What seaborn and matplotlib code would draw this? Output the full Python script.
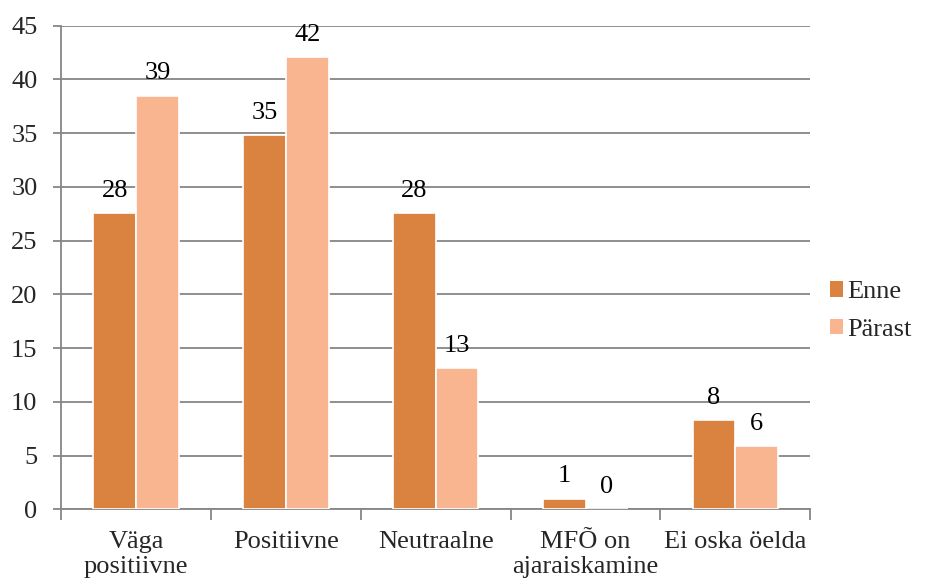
import pandas as pd
import matplotlib.pyplot as plt
import matplotlib.patches as mpatches
import seaborn as sns

# --- Data ---
CATEGORIES = ["Väga\npositiivne", "Positiivne", "Neutraalne", "MFÕ on\najaraiskamine", "Ei oska öelda"]
SERIES = ["Enne", "Pärast"]
ENNE = [27.6, 34.8, 27.6, 1.0, 8.3]
PARAST = [38.5, 42.1, 13.1, 0.0, 5.9]
ENNE_LABELS = ["28", "35", "28", "1", "8"]
PARAST_LABELS = ["39", "42", "13", "0", "6"]
Y_TICKS = list(range(0, 50, 5))

COLORS = {"Enne": "#DA8340", "Pärast": "#F8B58F"}
GRID = "#868686"
FS = 19

df = pd.DataFrame({
    "kategooria": CATEGORIES * 2,
    "seeria": ["Enne"] * len(CATEGORIES) + ["Pärast"] * len(CATEGORIES),
    "vaartus": ENNE + PARAST,
})

sns.set_theme(style="white")
plt.rcParams["font.family"] = ["Liberation Serif", "DejaVu Serif"]

fig = plt.figure(figsize=(9.26, 5.84), dpi=100)
ax = fig.add_axes([0.066, 0.128, 0.809, 0.828])

sns.barplot(
    data=df, x="kategooria", y="vaartus", hue="seeria",
    hue_order=SERIES, order=CATEGORIES, palette=COLORS, saturation=1,
    width=0.57, edgecolor="white", linewidth=1.2, ax=ax, zorder=3,
    legend=False,
)

for cont, labels in zip(ax.containers, [ENNE_LABELS, PARAST_LABELS]):
    ax.bar_label(cont, labels=labels, padding=8, fontsize=FS, color="black")

ax.set_ylim(0, 45)
ax.set_xlim(-0.5, len(CATEGORIES) - 0.5)
ax.set_yticks(Y_TICKS)
ax.set_xticks([i - 0.5 for i in range(len(CATEGORIES) + 1)], minor=True)

ax.set_xlabel("")
ax.set_ylabel("")
ax.tick_params(axis="y", labelsize=FS, length=6, width=1.3, color=GRID, direction="out", pad=11, left=True)
ax.tick_params(axis="x", labelsize=FS, length=0, pad=16)
ax.tick_params(axis="x", which="minor", length=8, width=1.3, color=GRID, bottom=True, direction="out")
for lbl in ax.get_xticklabels():
    lbl.set_linespacing(1.15)

# gridlines stay under the bars (bars use zorder 3)
ax.xaxis.grid(False, which="both")
ax.yaxis.grid(True, which="major", color=GRID, linewidth=1.3)

for s in ["top", "right"]:
    ax.spines[s].set_visible(False)
for s in ["left", "bottom"]:
    ax.spines[s].set_color(GRID)
    ax.spines[s].set_linewidth(1.3)

handles = [mpatches.Patch(facecolor=COLORS[s], edgecolor="none", label=s) for s in SERIES]
fig.legend(
    handles=handles, loc="center left", bbox_to_anchor=(0.871, 0.467), frameon=False,
    fontsize=FS, handlelength=0.5, handleheight=0.5, handletextpad=0.15,
    labelspacing=0.6,
)

plt.savefig("out.png", dpi=100)
